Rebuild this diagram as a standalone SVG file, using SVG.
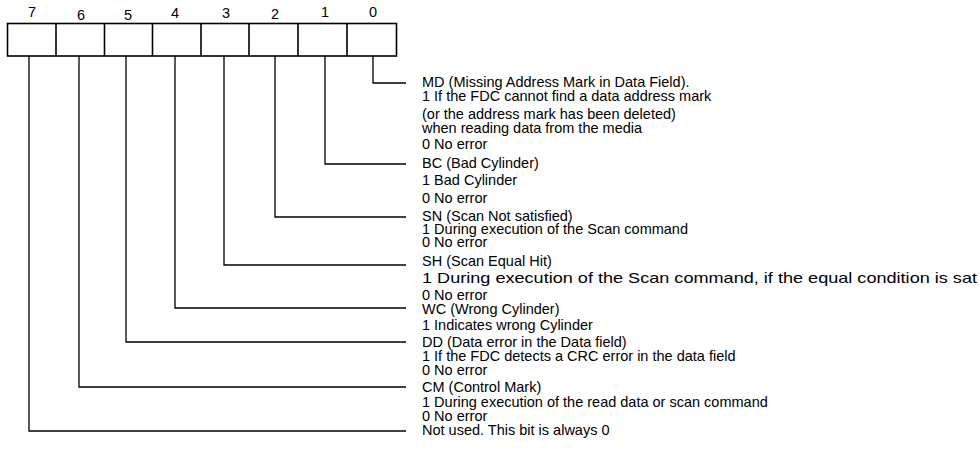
<svg xmlns="http://www.w3.org/2000/svg" width="980" height="466" viewBox="0 0 980 466">
<style>
.t{font-family:"Liberation Sans",Arial,sans-serif;font-size:14.5px;fill:#000}
.n{font-family:"Liberation Sans",Arial,sans-serif;font-size:14.5px;fill:#000;text-anchor:middle}
.b{fill:#fff;stroke:#000;stroke-width:1.6}
.c{fill:none;stroke:#000;stroke-width:1.3}
</style>
<rect width="980" height="466" fill="#fff"/>
<g id="register">
<rect class="b" x="7.5" y="23.5" width="389" height="32.5"/>
<path class="c" d="M56 23.5V56M104.5 23.5V56M152.5 23.5V56M201 23.5V56M249 23.5V56M298 23.5V56M347 23.5V56" style="stroke-width:1.6"/>
<text class="n" x="32" y="16.5">7</text>
<text class="n" x="81" y="19.5">6</text>
<text class="n" x="128" y="20">5</text>
<text class="n" x="175" y="18">4</text>
<text class="n" x="226" y="18">3</text>
<text class="n" x="275" y="19">2</text>
<text class="n" x="325" y="16.5">1</text>
<text class="n" x="373" y="17">0</text>
</g>
<g id="connectors">
<path class="c" d="M373 56V83H406"/>
<path class="c" d="M325 56V164H406"/>
<path class="c" d="M275 56V217H406"/>
<path class="c" d="M224 56V265H406"/>
<path class="c" d="M175 56V308H406"/>
<path class="c" d="M126 56V342H406"/>
<path class="c" d="M79 56V387H406"/>
<path class="c" d="M29 56V431H406"/>
</g>
<g id="bit0">
<text class="t" x="422" y="87">MD (Missing Address Mark in Data Field).</text>
<text class="t" x="422" y="101">1 If the FDC cannot find a data address mark</text>
<text class="t" x="422" y="119">(or the address mark has been deleted)</text>
<text class="t" x="422" y="133">when reading data from the media</text>
<text class="t" x="422" y="149">0 No error</text>
</g>
<g id="bit1">
<text class="t" x="422" y="168">BC (Bad Cylinder)</text>
<text class="t" x="422" y="185">1 Bad Cylinder</text>
<text class="t" x="422" y="203">0 No error</text>
</g>
<g id="bit2">
<text class="t" x="422" y="221">SN (Scan Not satisfied)</text>
<text class="t" x="422" y="234">1 During execution of the Scan command</text>
<text class="t" x="422" y="247">0 No error</text>
</g>
<g id="bit3">
<text class="t" x="422" y="266">SH (Scan Equal Hit)</text>
<text class="t" x="422" y="283" textLength="555" lengthAdjust="spacingAndGlyphs">1 During execution of the Scan command, if the equal condition is sat</text>
<text class="t" x="422" y="300">0 No error</text>
</g>
<g id="bit4">
<text class="t" x="422" y="314">WC (Wrong Cylinder)</text>
<text class="t" x="422" y="330">1 Indicates wrong Cylinder</text>
</g>
<g id="bit5">
<text class="t" x="422" y="347">DD (Data error in the Data field)</text>
<text class="t" x="422" y="361">1 If the FDC detects a CRC error in the data field</text>
<text class="t" x="422" y="375">0 No error</text>
</g>
<g id="bit6">
<text class="t" x="422" y="392">CM (Control Mark)</text>
<text class="t" x="422" y="407">1 During execution of the read data or scan command</text>
<text class="t" x="422" y="421">0 No error</text>
</g>
<g id="bit7">
<text class="t" x="422" y="435">Not used. This bit is always 0</text>
</g>
</svg>
